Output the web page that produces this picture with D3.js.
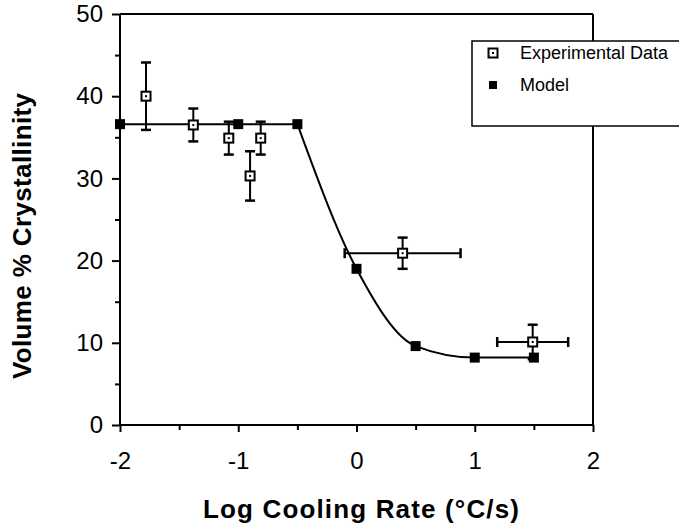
<!DOCTYPE html>
<html>
<head>
<meta charset="utf-8">
<script src="https://cdn.jsdelivr.net/npm/d3@7"></script>
<style>
  html, body { margin: 0; padding: 0; background: #fff; overflow: hidden; }
  svg { display: block; }
  text { font-family: "Liberation Sans", Arial, Helvetica, sans-serif; fill: #000; }
</style>
</head>
<body>
<svg id="chart" width="679" height="525"></svg>
<script>
// ---- data ----
const modelX = [-2, -1, -0.5, 0, 0.5, 1, 1.5];
const modelY = [36.6, 36.6, 36.6, 19.0, 9.6, 8.2, 8.2];

const expX    = [-1.78, -1.38, -1.08, -0.90, -0.81, 0.39, 1.49];
const expY    = [40.0, 36.5, 34.9, 30.3, 34.9, 20.9, 10.1];
const expYErr = [4.1, 2.0, 2.0, 3.0, 2.0, 1.9, 2.1];
const expXErr = [0, 0, 0, 0, 0, 0.49, 0.30];

const xTicks = [-2, -1, 0, 1, 2];
const xMinorTicks = [-1.5, -0.5, 0.5, 1.5];
const yTicks = [0, 10, 20, 30, 40, 50];
const yMinorTicks = [5, 15, 25, 35, 45];

const xTitle = "Log Cooling Rate (\u00B0C/s)";
const yTitle = "Volume % Crystallinity";
const legendLabels = ["Experimental Data", "Model"];

// ---- layout ----
const svg = d3.select("#chart");
const x = d3.scaleLinear().domain([-2, 2]).range([120, 593]);
const y = d3.scaleLinear().domain([0, 50]).range([425, 14]);

const lw = 2;

// frame (top and right)
svg.append("line").attr("x1", x(-2)).attr("x2", x(2)).attr("y1", y(50)).attr("y2", y(50))
  .attr("stroke", "#000").attr("stroke-width", lw);
svg.append("line").attr("x1", x(2)).attr("x2", x(2)).attr("y1", y(50)).attr("y2", y(0))
  .attr("stroke", "#000").attr("stroke-width", lw);

// left axis
const gy = svg.append("g").attr("transform", `translate(${x(-2)},0)`)
  .call(d3.axisLeft(y).tickValues(yTicks).tickSize(8).tickPadding(9).tickFormat(d3.format("d")));
gy.select(".domain").attr("stroke-width", lw).attr("d", `M0,${y(0)}V${y(50)}`);
gy.selectAll(".tick line").attr("stroke-width", lw);
gy.selectAll(".tick text").attr("font-size", 24).attr("font-family", "Liberation Sans, Arial, sans-serif");
const gym = svg.append("g").attr("transform", `translate(${x(-2)},0)`)
  .call(d3.axisLeft(y).tickValues(yMinorTicks).tickSize(5).tickFormat(""));
gym.select(".domain").remove();
gym.selectAll(".tick line").attr("stroke-width", lw);

// bottom axis
const gx = svg.append("g").attr("transform", `translate(0,${y(0)})`)
  .call(d3.axisBottom(x).tickValues(xTicks).tickSize(7).tickPadding(20).tickFormat(d3.format("d")));
gx.select(".domain").attr("stroke-width", lw).attr("d", `M${x(-2)},0H${x(2)}`);
gx.selectAll(".tick line").attr("stroke-width", lw);
gx.selectAll(".tick text").attr("font-size", 24).attr("font-family", "Liberation Sans, Arial, sans-serif")
  .text(d => d < 0 ? "-" + Math.abs(d) : d);
const gxm = svg.append("g").attr("transform", `translate(0,${y(0)})`)
  .call(d3.axisBottom(x).tickValues(xMinorTicks).tickSize(5).tickFormat(""));
gxm.select(".domain").remove();
gxm.selectAll(".tick line").attr("stroke-width", lw);

// axis titles
svg.append("text").attr("x", 361).attr("y", 518).attr("text-anchor", "middle")
  .attr("font-size", 26).attr("font-weight", "bold")
  .attr("textLength", 316).attr("lengthAdjust", "spacing")
  .text(xTitle);
svg.append("text").attr("transform", "translate(31,236) rotate(-90)").attr("text-anchor", "middle")
  .attr("font-size", 26).attr("font-weight", "bold")
  .attr("textLength", 286).attr("lengthAdjust", "spacing")
  .text(yTitle);

// model curve: flat plateau then smooth decay
const modelPts = modelX.map((d, i) => [d, modelY[i]]);
const plateauEnd = 2;
const lineLin = d3.line().x(d => x(d[0])).y(d => y(d[1]));
const lineSmooth = d3.line().x(d => x(d[0])).y(d => y(d[1])).curve(d3.curveMonotoneX);
svg.append("path").attr("d", lineLin(modelPts.slice(0, plateauEnd + 1)))
  .attr("fill", "none").attr("stroke", "#000").attr("stroke-width", 2);
svg.append("path").attr("d", lineSmooth(modelPts.slice(plateauEnd)))
  .attr("fill", "none").attr("stroke", "#000").attr("stroke-width", 2);

// experimental error bars
const capHalf = 5;
const eg = svg.append("g");
expX.forEach((xv, i) => {
  const cx = x(xv), cy = y(expY[i]);
  const yt = y(expY[i] + expYErr[i]), yb = y(expY[i] - expYErr[i]);
  eg.append("line").attr("x1", cx).attr("x2", cx).attr("y1", yt).attr("y2", yb)
    .attr("stroke", "#000").attr("stroke-width", 2);
  [yt, yb].forEach(v => eg.append("line").attr("x1", cx - capHalf).attr("x2", cx + capHalf)
    .attr("y1", v).attr("y2", v).attr("stroke", "#000").attr("stroke-width", 2.5));
  if (expXErr[i] > 0) {
    const xl = x(xv - expXErr[i]), xr = x(xv + expXErr[i]);
    eg.append("line").attr("x1", xl).attr("x2", xr).attr("y1", cy).attr("y2", cy)
      .attr("stroke", "#000").attr("stroke-width", 2);
    [xl, xr].forEach(v => eg.append("line").attr("x1", v).attr("x2", v)
      .attr("y1", cy - capHalf).attr("y2", cy + capHalf).attr("stroke", "#000").attr("stroke-width", 2.5));
  }
});

// model markers
svg.append("g").selectAll("rect").data(modelPts).join("rect")
  .attr("x", d => x(d[0]) - 5).attr("y", d => y(d[1]) - 5)
  .attr("width", 10).attr("height", 10).attr("fill", "#000");

// experimental markers (open square with centre dot)
function openSquare(g, cx, cy) {
  g.append("rect").attr("x", cx - 4.5).attr("y", cy - 4.5).attr("width", 9).attr("height", 9)
    .attr("fill", "#fff").attr("stroke", "#000").attr("stroke-width", 2);
  g.append("rect").attr("x", cx - 1).attr("y", cy - 1).attr("width", 2).attr("height", 2).attr("fill", "#000");
}
const mg = svg.append("g");
expX.forEach((xv, i) => openSquare(mg, x(xv), y(expY[i])));

// legend (box runs off the right edge of the picture)
const lg = svg.append("g");
lg.append("rect").attr("x", 472).attr("y", 41).attr("width", 260).attr("height", 85)
  .attr("fill", "#fff").attr("stroke", "#000").attr("stroke-width", 1.5);
openSquare(lg, 493, 53);
lg.append("rect").attr("x", 489).attr("y", 81).attr("width", 8).attr("height", 8).attr("fill", "#000");
lg.selectAll("text").data(legendLabels).join("text")
  .attr("x", 520).attr("y", (d, i) => 53 + i * 32).attr("dy", "0.35em")
  .attr("font-size", 18).text(d => d);
</script>
</body>
</html>
